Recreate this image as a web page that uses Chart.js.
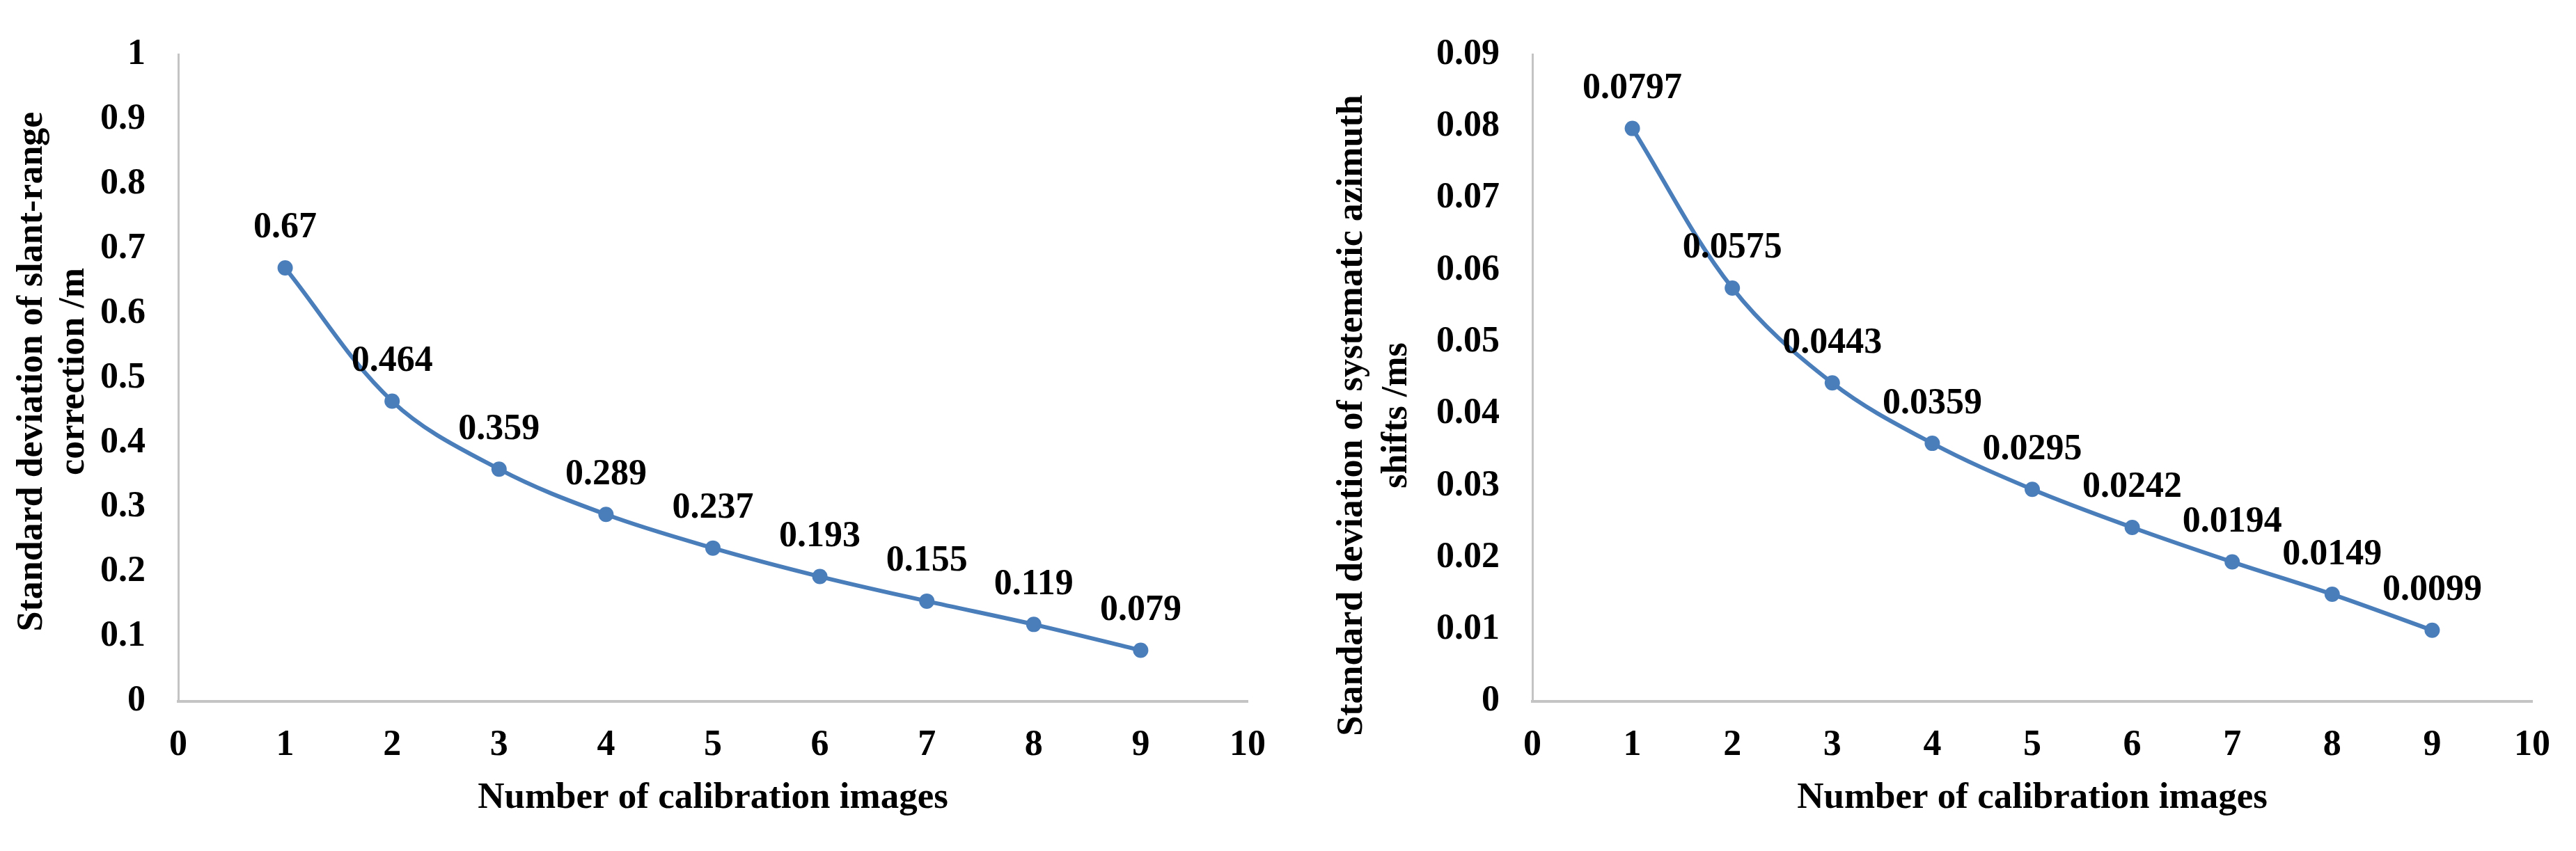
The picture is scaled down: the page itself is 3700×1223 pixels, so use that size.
<!DOCTYPE html>
<html>
<head>
<meta charset="utf-8">
<script src="https://cdn.jsdelivr.net/npm/chart.js@4.4.1/dist/chart.umd.min.js"></script>
<style>
  body { margin: 0; background: #fff; width: 3700px; height: 1223px; overflow: hidden; }
  .box { position: absolute; top: 0; width: 1850px; height: 1223px; }
</style>
</head>
<body>
<div class="box" style="left:0"><canvas id="slantChart" width="1850" height="1223"></canvas></div>
<div class="box" style="left:1850px"><canvas id="azimuthChart" width="1850" height="1223"></canvas></div>
<script>
// data
let imageCounts = [1, 2, 3, 4, 5, 6, 7, 8, 9];
let slantRangeStd = [0.67, 0.464, 0.359, 0.289, 0.237, 0.193, 0.155, 0.119, 0.079];
let azimuthStd = [0.0797, 0.0575, 0.0443, 0.0359, 0.0295, 0.0242, 0.0194, 0.0149, 0.0099];
let xTickLabels = ["0", "1", "2", "3", "4", "5", "6", "7", "8", "9", "10"];
let slantTickLabels = ["0", "0.1", "0.2", "0.3", "0.4", "0.5", "0.6", "0.7", "0.8", "0.9", "1"];
let azimuthTickLabels = ["0", "0.01", "0.02", "0.03", "0.04", "0.05", "0.06", "0.07", "0.08", "0.09"];

const serif = "'Liberation Serif', 'Times New Roman', serif";
const lineBlue = "#4a7ebb";
const axisGrey = "#c4c4c4";

// value labels above every point
const pointLabels = {
  id: "pointLabels",
  afterDatasetsDraw(chart) {
    const ctx = chart.ctx;
    const meta = chart.getDatasetMeta(0);
    const values = chart.data.datasets[0].rawLabels;
    ctx.save();
    ctx.font = "bold 52px " + serif;
    ctx.fillStyle = "#000";
    ctx.textAlign = "center";
    ctx.textBaseline = "middle";
    meta.data.forEach((pt, i) => {
      ctx.fillText(values[i], pt.x, pt.y - 57);
    });
    ctx.restore();
  }
};

// two-line rotated y title
const sideTitle = {
  id: "sideTitle",
  afterDraw(chart, args, opts) {
    const ctx = chart.ctx;
    ctx.save();
    ctx.font = "bold 52px " + serif;
    ctx.fillStyle = "#000";
    ctx.textAlign = "center";
    ctx.textBaseline = "middle";
    opts.lines.forEach((txt, i) => {
      ctx.save();
      ctx.translate(opts.x[i], opts.y);
      ctx.rotate(-Math.PI / 2);
      ctx.fillText(txt, 0, 0);
      ctx.restore();
    });
    ctx.restore();
  }
};

function makeChart(id, values, yMax, yStep, tickLabels, yAxisWidth, rightPad, title) {
  const points = imageCounts.map((x, i) => ({ x: x, y: values[i] }));
  return new Chart(document.getElementById(id), {
    type: "line",
    data: {
      datasets: [{
        data: points,
        rawLabels: values.map(String),
        borderColor: lineBlue,
        backgroundColor: lineBlue,
        borderWidth: 6,
        pointRadius: 11,
        pointBorderWidth: 0,
        tension: 0.35
      }]
    },
    options: {
      responsive: false,
      devicePixelRatio: 1,
      animation: false,
      layout: { padding: { top: 55, right: rightPad, left: 0, bottom: 0 } },
      plugins: {
        legend: { display: false },
        tooltip: { enabled: false },
        sideTitle: title
      },
      scales: {
        x: {
          type: "linear",
          min: 0,
          max: 10,
          grid: { display: false, drawTicks: false },
          border: { display: true, color: axisGrey, width: 4 },
          ticks: {
            stepSize: 1,
            padding: 32,
            color: "#000",
            font: { family: serif, size: 52, weight: "bold" },
            callback: (v) => xTickLabels[v]
          },
          title: {
            display: true,
            text: "Number of calibration images",
            color: "#000",
            font: { family: serif, size: 53, weight: "bold" },
            padding: { top: 0, bottom: 44 }
          },
          afterFit: (s) => { s.height = 215; }
        },
        y: {
          min: 0,
          max: yMax,
          grid: { display: false, drawTicks: false },
          border: { display: true, color: axisGrey, width: 3 },
          ticks: {
            stepSize: yStep,
            padding: 47,
            color: "#000",
            font: { family: serif, size: 52, weight: "bold" },
            callback: (v) => tickLabels[Math.round(v / yStep)]
          },
          afterFit: (s) => { s.width = yAxisWidth; }
        }
      }
    },
    plugins: [pointLabels, sideTitle]
  });
}

makeChart("slantChart", slantRangeStd, 1, 0.1, slantTickLabels, 256, 51, {
  lines: ["Standard deviation of slant-range", "correction /m"],
  x: [47, 107],
  y: 534
});

makeChart("azimuthChart", azimuthStd, 0.09, 0.01, azimuthTickLabels, 351, 63, {
  lines: ["Standard deviation of systematic azimuth", "shifts /ms"],
  x: [93, 157],
  y: 597
});
</script>
</body>
</html>
